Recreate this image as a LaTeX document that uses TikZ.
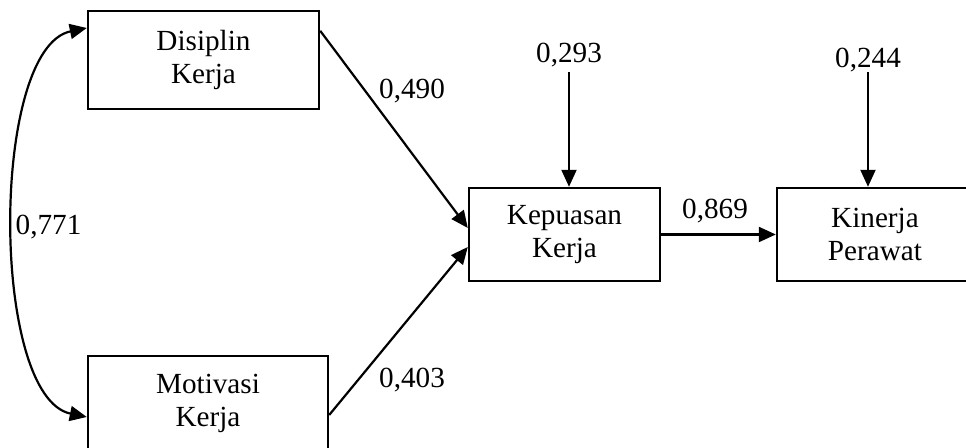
\documentclass[tikz,border=0pt]{standalone}
\usepackage{fontspec}
\setmainfont{Liberation Serif}
\usetikzlibrary{arrows.meta}

\begin{document}
\begin{tikzpicture}[x=0.5pt, y=0.5pt,
    box/.style={draw, line width=1.2pt, align=center, inner sep=0pt,
        font=\fontsize{14.6}{16.5}\selectfont},
    arr/.style={-{Triangle[length=8.5pt, width=7.5pt]}, line width=1.1pt},
    lbl/.style={font=\fontsize{14.6}{16.5}\selectfont, inner sep=0pt}]
    \useasboundingbox (0, 0) rectangle (966, 448);
    \clip (0, 0) rectangle (966, 448);
    % variables
    \node [box, minimum width=115.5pt, minimum height=49pt] (disiplin) at (203.5, 388) {Disiplin\\Kerja};
    \node [box, minimum width=120pt, minimum height=47pt] (motivasi) at (208, 45) {Motivasi\\Kerja};
    \node [box, minimum width=95.5pt, minimum height=46.5pt] (kepuasan) at (564.5, 213.5) {Kepuasan\\Kerja};
    \node [box, minimum width=98pt, minimum height=46.5pt] (kinerja) at (875, 213.5) {Kinerja\\Perawat};
    % error terms
    \coordinate (e1) at (569, 376);
    \coordinate (e2) at (868, 376);
    \node [lbl] (r1) at (569, 393) {0,293};
    \node [lbl] (r2) at (868, 388) {0,244};
    % paths
    \draw [arr] ([yshift=-10.5pt]disiplin.north east) -- ([yshift=3.25pt]kepuasan.west);
    \draw [arr] ([yshift=-6pt]motivasi.east) -- ([yshift=-6.25pt]kepuasan.west);
    \draw [arr] (kepuasan.east) -- (kinerja.west);
    \draw [arr] (e1) -- (e1 |- kepuasan.north);
    \draw [arr] (e2) -- (e2 |- kinerja.north);
    \draw [{Triangle[length=8.5pt, width=7.5pt]}-{Triangle[length=8.5pt, width=7.5pt]}, line width=1.1pt]
        ([yshift=16pt]disiplin.west) .. controls (-10, 400) and (-10, 51) .. ([yshift=-7pt]motivasi.west);
    % coefficients
    \node [lbl] (p1) at (412, 357) {0,490};
    \node [lbl] (p2) at (412, 68) {0,403};
    \node [lbl] (p3) at (715, 237) {0,869};
    \node [lbl] (p4) at (48.5, 221) {0,771};
\end{tikzpicture}
\end{document}
